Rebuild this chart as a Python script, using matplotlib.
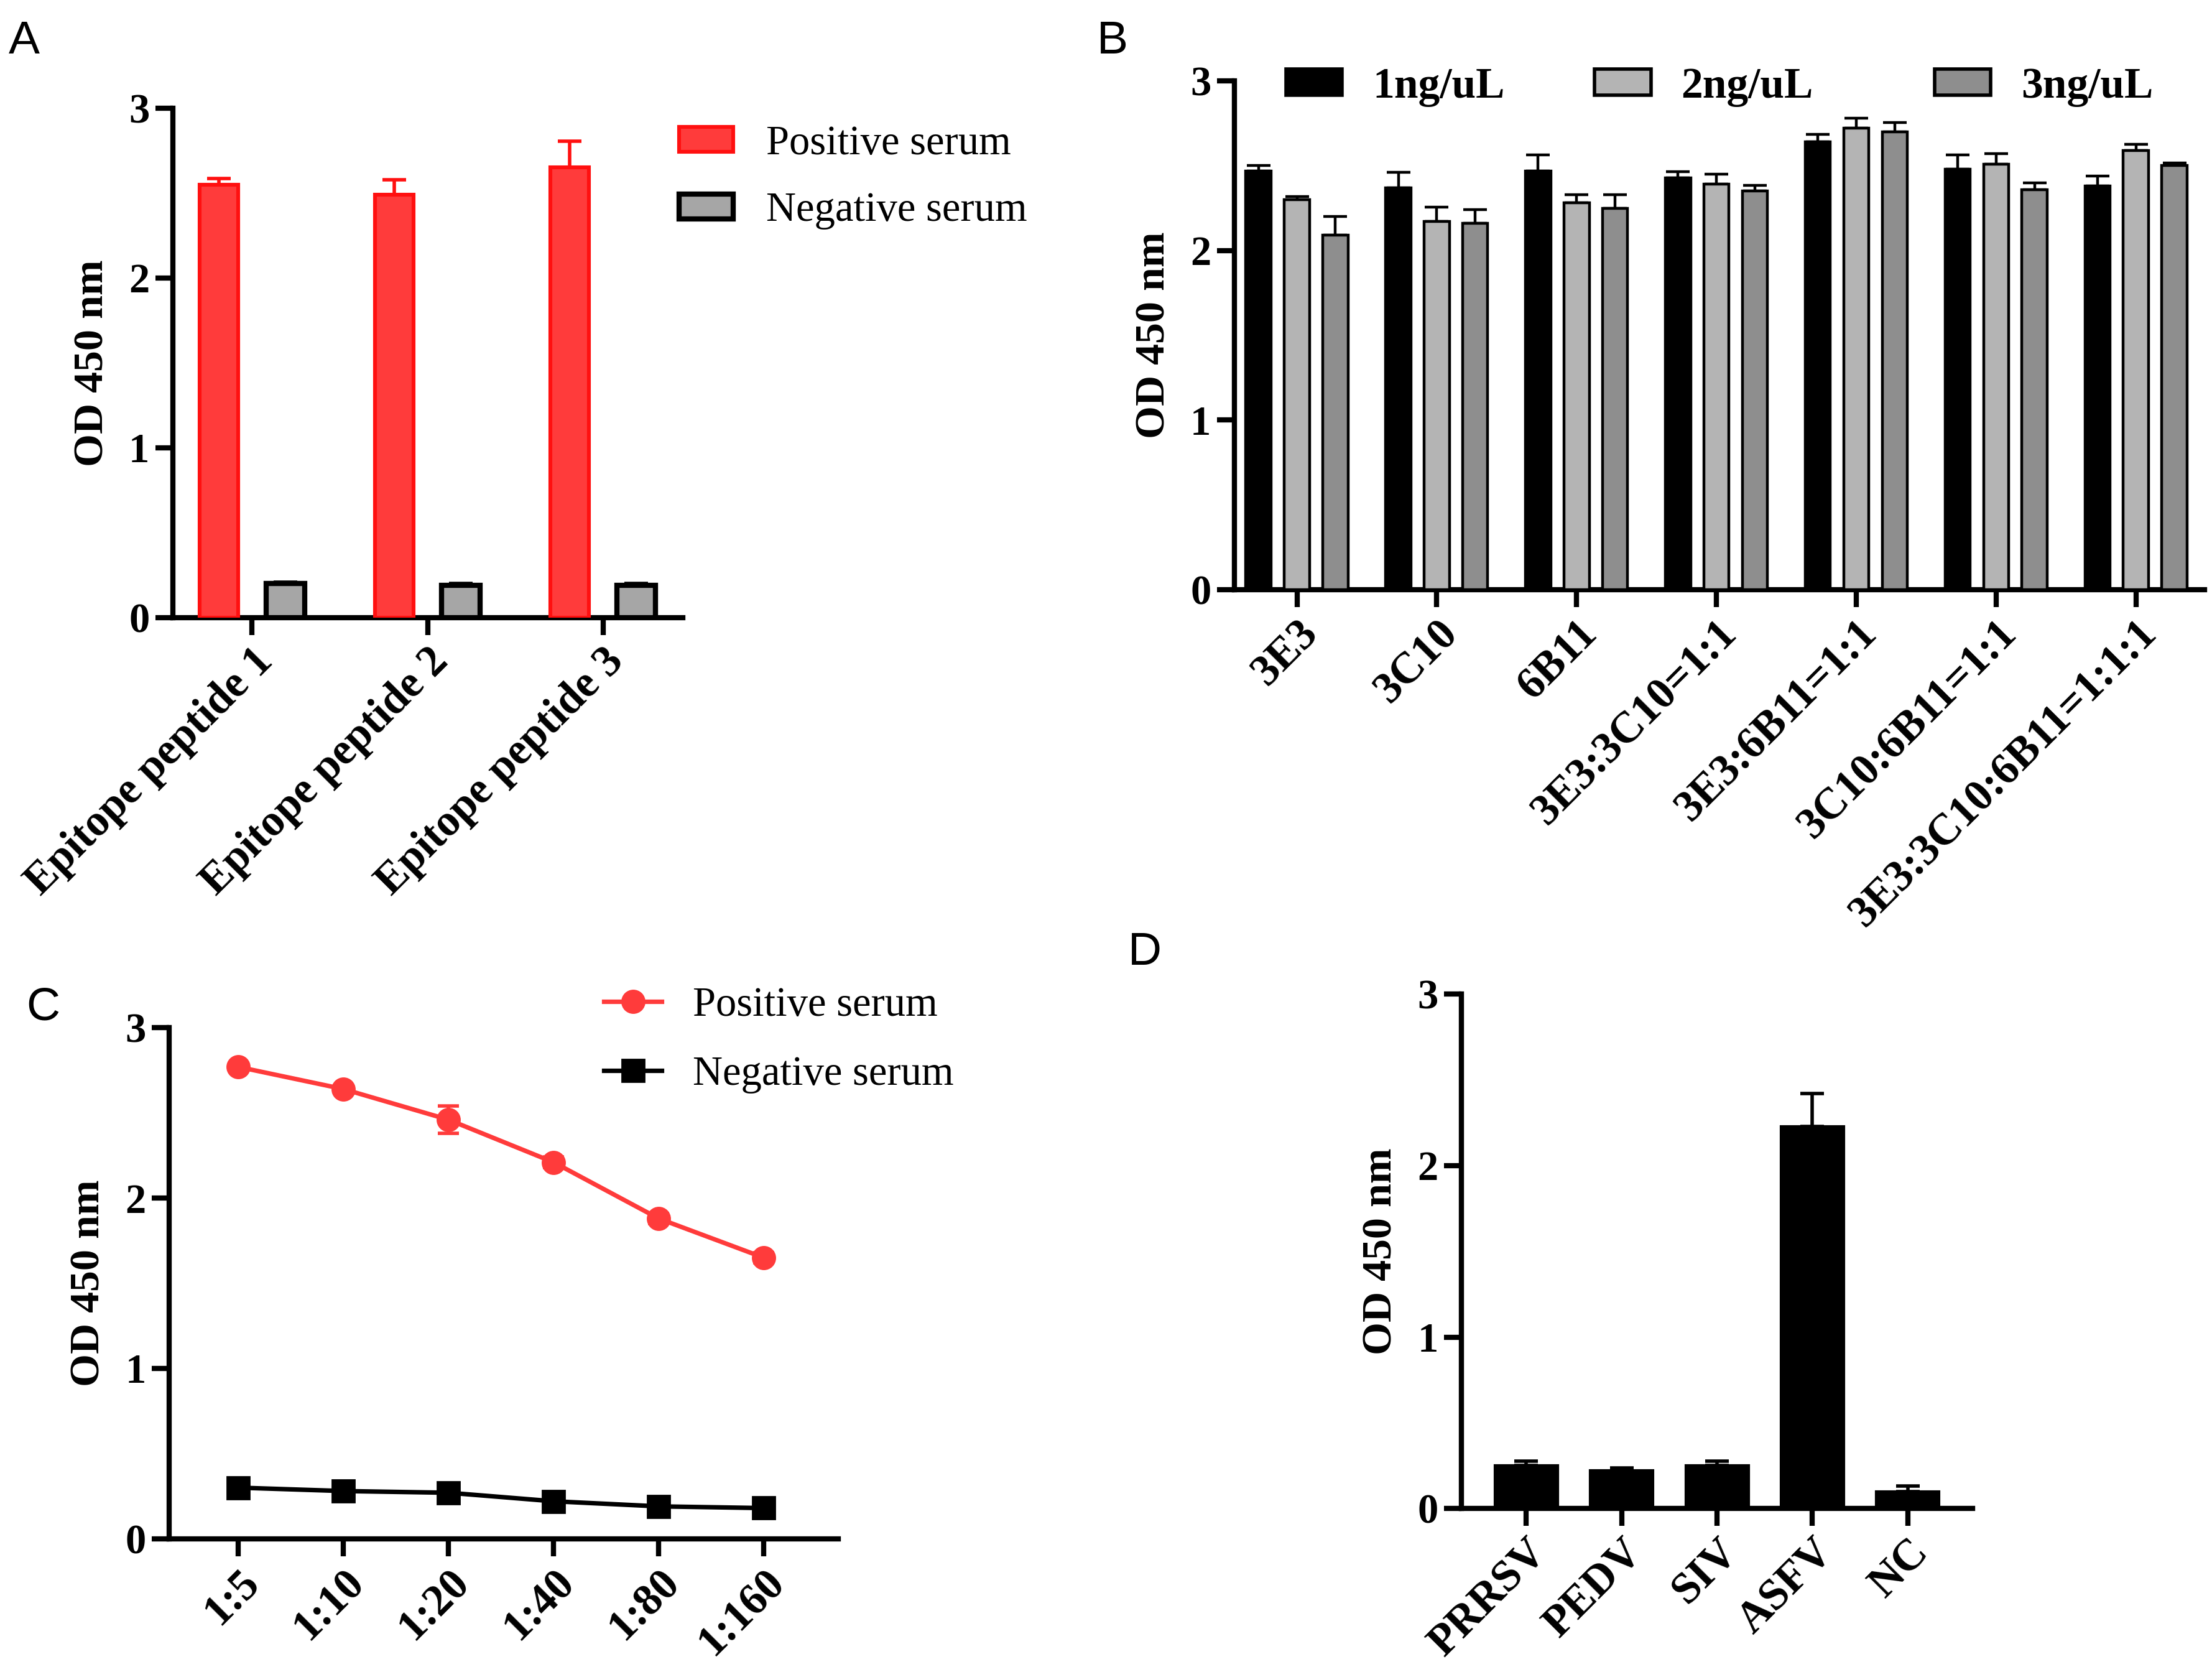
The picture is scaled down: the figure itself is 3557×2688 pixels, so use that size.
import numpy as np
import matplotlib

matplotlib.use("Agg")
import matplotlib.pyplot as plt
from matplotlib.patches import Patch
from matplotlib.lines import Line2D

plt.rcParams["font.family"] = ["Liberation Serif", "DejaVu Serif"]

# ---------------------------------------------------------------------------
# Data.
# ---------------------------------------------------------------------------

# Panel A
peptides = ["Epitope peptide 1", "Epitope peptide 2", "Epitope peptide 3"]
pos_serum_a = [2.55, 2.49, 2.65]
pos_serum_a_err = [0.035, 0.09, 0.155]
neg_serum_a = [0.20, 0.19, 0.19]
neg_serum_a_err = [0.01, 0.01, 0.01]

# Panel B
antibodies = ["3E3", "3C10", "6B11", "3E3:3C10=1:1", "3E3:6B11=1:1",
              "3C10:6B11=1:1", "3E3:3C10:6B11=1:1:1"]
conc_labels = ["1ng/uL", "2ng/uL", "3ng/uL"]
od_1ng = [2.47, 2.37, 2.47, 2.43, 2.64, 2.48, 2.38]
od_1ng_err = [0.03, 0.09, 0.095, 0.035, 0.045, 0.085, 0.06]
od_2ng = [2.30, 2.17, 2.28, 2.39, 2.72, 2.51, 2.59]
od_2ng_err = [0.02, 0.085, 0.05, 0.06, 0.06, 0.06, 0.035]
od_3ng = [2.09, 2.16, 2.25, 2.35, 2.70, 2.36, 2.50]
od_3ng_err = [0.11, 0.08, 0.08, 0.035, 0.055, 0.04, 0.015]

# Panel C
dilutions = ["1:5", "1:10", "1:20", "1:40", "1:80", "1:160"]
pos_serum_c = [2.77, 2.64, 2.46, 2.21, 1.88, 1.65]
pos_serum_c_err = [0.02, 0.02, 0.08, 0.03, 0.03, 0.03]
neg_serum_c = [0.30, 0.28, 0.27, 0.22, 0.19, 0.18]
neg_serum_c_err = [0.01, 0.01, 0.01, 0.01, 0.01, 0.01]

# Panel D
viruses = ["PRRSV", "PEDV", "SIV", "ASFV", "NC"]
od_virus = [0.25, 0.22, 0.25, 2.23, 0.10]
od_virus_err = [0.025, 0.015, 0.025, 0.19, 0.03]

# ---------------------------------------------------------------------------
# Style
# ---------------------------------------------------------------------------
XTICK_FS = 25.5
YTICK_FS = 24
LABEL_FS = 24.5
LEGEND_FS = 24
LETTER_FS = 27
SPINE_LW = 3.0
RED = "#ff3b3b"
RED_EDGE = "#ff1010"
LIGHT_GRAY = "#b4b4b4"
MID_GRAY = "#8e8e8e"


def style_axes(ax, xlim):
    ax.set_ylim(0, 3)
    ax.set_xlim(*xlim)
    ax.set_yticks([0, 1, 2, 3])
    for side in ("top", "right"):
        ax.spines[side].set_visible(False)
    for side in ("left", "bottom"):
        ax.spines[side].set_linewidth(SPINE_LW)
    ax.tick_params(axis="both", width=SPINE_LW, length=10)
    ax.tick_params(axis="y", labelsize=YTICK_FS)
    for lab in ax.get_yticklabels():
        lab.set_fontweight("bold")
    ax.set_ylabel("OD 450 nm", fontsize=LABEL_FS, fontweight="bold", labelpad=10)


def set_xlabels(ax, labels):
    ax.set_xticks(np.arange(len(labels)))
    ax.set_xticklabels(labels, rotation=45, ha="right", rotation_mode="anchor",
                       fontweight="bold", fontsize=XTICK_FS)


def up_err(ax, x, y, err, color, lw):
    ax.errorbar(x, y, yerr=[np.zeros(len(err)), err], fmt="none", ecolor=color,
                elinewidth=lw, capsize=7, capthick=lw, zorder=2)


fig = plt.figure(figsize=(17.785, 13.44), dpi=200)

# ---------------------------------------------------------------- Panel A
ax_a = fig.add_axes([0.0781, 0.6306, 0.2307, 0.3047])
xa = np.arange(len(peptides))
ax_a.bar(xa - 0.19, pos_serum_a, width=0.22, color=RED, edgecolor=RED_EDGE,
         linewidth=2.2, zorder=3)
up_err(ax_a, xa - 0.19, pos_serum_a, pos_serum_a_err, RED_EDGE, 2.0)
ax_a.bar(xa + 0.19, neg_serum_a, width=0.22, color="#a6a6a6", edgecolor="black",
         linewidth=3.0, zorder=3)
up_err(ax_a, xa + 0.19, neg_serum_a, neg_serum_a_err, "black", 2.0)
style_axes(ax_a, (-0.452, 2.456))
set_xlabels(ax_a, peptides)

fig.legend(
    handles=[Patch(facecolor=RED, edgecolor=RED_EDGE, linewidth=2.2),
             Patch(facecolor="#a6a6a6", edgecolor="black", linewidth=3.0)],
    labels=["Positive serum", "Negative serum"],
    loc="center left", bbox_to_anchor=(0.307, 0.894), bbox_transform=fig.transFigure,
    frameon=False, fontsize=LEGEND_FS, handlelength=1.3, handleheight=0.55,
    handletextpad=0.8, labelspacing=0.7, borderpad=0, borderaxespad=0,
)

# ---------------------------------------------------------------- Panel B
ax_b = fig.add_axes([0.558, 0.6473, 0.4386, 0.3043])
xb = np.arange(len(antibodies))
b_series = [(od_1ng, od_1ng_err, "black"), (od_2ng, od_2ng_err, LIGHT_GRAY),
            (od_3ng, od_3ng_err, MID_GRAY)]
for i, (vals, errs, col) in enumerate(b_series):
    xs = xb + (i - 1) * 0.275
    ax_b.bar(xs, vals, width=0.18, color=col, edgecolor="black", linewidth=1.6, zorder=3)
    up_err(ax_b, xs, vals, errs, "black", 1.6)
style_axes(ax_b, (-0.448, 6.49))
set_xlabels(ax_b, antibodies)

b_leg_x = [0.5814, 0.7209, 0.8746]
for x0, (vals, errs, col), lab in zip(b_leg_x, b_series, conc_labels):
    fig.legend(
        handles=[Patch(facecolor=col, edgecolor="black", linewidth=2.0)], labels=[lab],
        loc="center left", bbox_to_anchor=(x0, 0.948), bbox_transform=fig.transFigure,
        frameon=False, prop={"size": LEGEND_FS + 1, "weight": "bold"}, handlelength=1.3,
        handleheight=0.55, handletextpad=0.7, borderpad=0, borderaxespad=0,
    )

# ---------------------------------------------------------------- Panel C
ax_c = fig.add_axes([0.0766, 0.0797, 0.3024, 0.3056])
xc = np.arange(len(dilutions))
ax_c.errorbar(xc, pos_serum_c, yerr=pos_serum_c_err, color=RED, marker="o",
              markersize=13, linewidth=2.6, elinewidth=2.0, capsize=6, capthick=2.0,
              zorder=3)
ax_c.errorbar(xc, neg_serum_c, yerr=neg_serum_c_err, color="black", marker="s",
              markersize=13, linewidth=2.6, elinewidth=2.0, capsize=6, capthick=2.0,
              zorder=3)
style_axes(ax_c, (-0.657, 5.709))
set_xlabels(ax_c, dilutions)

fig.legend(
    handles=[Line2D([], [], color=RED, marker="o", markersize=13, linewidth=2.6),
             Line2D([], [], color="black", marker="s", markersize=13, linewidth=2.6)],
    labels=["Positive serum", "Negative serum"],
    loc="center left", bbox_to_anchor=(0.273, 0.378), bbox_transform=fig.transFigure,
    frameon=False, fontsize=LEGEND_FS, handlelength=1.4, handletextpad=0.75,
    labelspacing=0.75, borderpad=0, borderaxespad=0,
)

# ---------------------------------------------------------------- Panel D
ax_d = fig.add_axes([0.6607, 0.0978, 0.2311, 0.3076])
xd = np.arange(len(viruses))
ax_d.bar(xd, od_virus, width=0.66, color="black", edgecolor="black", linewidth=1.5,
         zorder=3)
up_err(ax_d, xd, od_virus, od_virus_err, "black", 2.0)
style_axes(ax_d, (-0.68, 4.68))
set_xlabels(ax_d, viruses)

# ---------------------------------------------------------------- letters
for letter, x, y in [("A", 0.004, 0.988), ("B", 0.496, 0.988),
                     ("C", 0.012, 0.41), ("D", 0.510, 0.443)]:
    fig.text(x, y, letter, fontsize=LETTER_FS, family="Liberation Sans",
             ha="left", va="top")

fig.savefig("out.png", dpi=200)
